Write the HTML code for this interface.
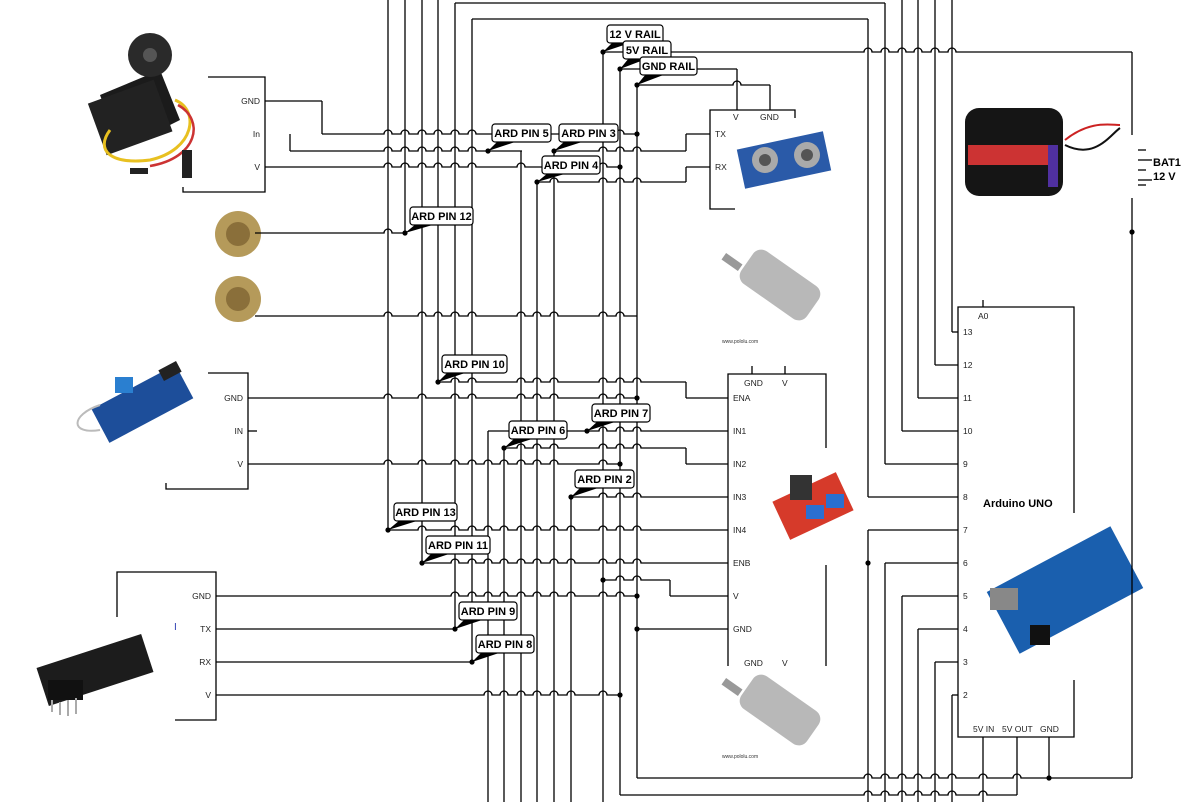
<!DOCTYPE html>
<html><head><meta charset="utf-8"><style>
html,body{margin:0;padding:0;background:#fff;}
svg{display:block;font-family:"Liberation Sans",sans-serif;}
.l{font-size:8.5px;fill:#222}
.c{font-size:11px;font-weight:bold;fill:#000}
</style></head><body>
<svg id="s" width="1187" height="802" viewBox="0 0 1187 802" xmlns="http://www.w3.org/2000/svg">
<g id="img">
 <!-- servo -->
 <path d="M100 95 L160 70 L180 120 L120 150 Z" fill="#1b1b1b"/>
 <rect x="95" y="90" width="70" height="55" fill="#222" transform="rotate(-20 130 117)"/>
 <circle cx="150" cy="55" r="22" fill="#2a2a2a"/><circle cx="150" cy="55" r="7" fill="#555"/>
 <path d="M175 100 C200 110 195 150 150 160 C110 165 95 150 110 130" stroke="#e8c020" stroke-width="3" fill="none"/>
 <path d="M178 105 C205 120 198 158 150 166" stroke="#c33" stroke-width="2.5" fill="none"/>
 <rect x="130" y="168" width="18" height="6" fill="#222"/><rect x="182" y="150" width="10" height="28" fill="#222"/>
 <!-- steel wool -->
 <circle cx="238" cy="234" r="23" fill="#b59a5a"/><circle cx="238" cy="234" r="12" fill="#8a6f3a"/>
 <circle cx="238" cy="299" r="23" fill="#b59a5a"/><circle cx="238" cy="299" r="12" fill="#8a6f3a"/>
 <!-- rain sensor -->
 <rect x="95" y="385" width="95" height="38" fill="#1d4e9a" transform="rotate(-28 142 404)"/>
 <rect x="115" y="377" width="18" height="16" fill="#2a7fd0"/>
 <path d="M100 405 C70 415 70 435 100 430" stroke="#bbb" stroke-width="2" fill="none"/>
 <rect x="160" y="365" width="20" height="12" fill="#222" transform="rotate(-28 170 371)"/>
 <!-- esp -->
 <rect x="40" y="650" width="110" height="40" fill="#1c1c1c" transform="rotate(-18 95 670)"/>
 <rect x="48" y="680" width="35" height="20" fill="#111"/>
 <g stroke="#aaa" stroke-width="2"><line x1="52" y1="700" x2="52" y2="712"/><line x1="60" y1="702" x2="60" y2="715"/><line x1="68" y1="700" x2="68" y2="716"/><line x1="76" y1="698" x2="76" y2="714"/></g>
 <!-- ultrasonic -->
 <rect x="740" y="140" width="88" height="40" fill="#2a5aa8" transform="rotate(-12 784 160)"/>
 <circle cx="765" cy="160" r="13" fill="#aaa"/><circle cx="765" cy="160" r="6" fill="#555"/>
 <circle cx="807" cy="155" r="13" fill="#aaa"/><circle cx="807" cy="155" r="6" fill="#555"/>
 <!-- motor1 -->
 <rect x="740" y="265" width="80" height="40" rx="10" fill="#b8b8b8" transform="rotate(35 780 285)"/>
 <rect x="722" y="258" width="20" height="8" fill="#999" transform="rotate(35 732 262)"/>
 <!-- motor2 -->
 <rect x="740" y="690" width="80" height="40" rx="10" fill="#b8b8b8" transform="rotate(35 780 710)"/>
 <rect x="722" y="683" width="20" height="8" fill="#999" transform="rotate(35 732 687)"/>
 <!-- l298 -->
 <rect x="778" y="485" width="70" height="42" fill="#d63a2a" transform="rotate(-25 813 506)"/>
 <rect x="790" y="475" width="22" height="25" fill="#333"/>
 <rect x="806" y="505" width="18" height="14" fill="#2a6fd0"/><rect x="826" y="494" width="18" height="14" fill="#2a6fd0"/>
 <!-- battery -->
 <rect x="965" y="108" width="98" height="88" rx="14" fill="#151515"/>
 <rect x="968" y="145" width="85" height="20" fill="#c33"/>
 <rect x="1048" y="145" width="10" height="42" fill="#5030a0"/>
 <path d="M1065 140 C1090 120 1110 125 1120 125" stroke="#c22" stroke-width="2" fill="none"/>
 <path d="M1065 145 C1095 160 1110 135 1120 128" stroke="#111" stroke-width="2" fill="none"/>
 <!-- arduino -->
 <rect x="995" y="555" width="140" height="70" fill="#1a5fae" transform="rotate(-28 1065 590)"/>
 <rect x="990" y="588" width="28" height="22" fill="#888"/>
 <rect x="1030" y="625" width="20" height="20" fill="#111"/>
</g>
<g id="w" stroke="#000" stroke-width="1.3" fill="none"></g>
<g id="d" fill="#000"></g>
<g id="t">
 <!-- servo box -->
 <path d="M208 77H265V192H183V187" stroke="#000" stroke-width="1.3" fill="none"/>
 <text class="l" x="260" y="104" text-anchor="end">GND</text>
 <text class="l" x="260" y="137" text-anchor="end">In</text>
 <text class="l" x="260" y="170" text-anchor="end">V</text>
 <!-- rain box -->
 <path d="M208 373H248V489H166V483" stroke="#000" stroke-width="1.3" fill="none"/>
 <line x1="248" y1="431" x2="257" y2="431" stroke="#000" stroke-width="1.3"/>
 <text class="l" x="243" y="401" text-anchor="end">GND</text>
 <text class="l" x="243" y="434" text-anchor="end">IN</text>
 <text class="l" x="243" y="467" text-anchor="end">V</text>
 <!-- esp box -->
 <path d="M117 617V572H216V720H175" stroke="#000" stroke-width="1.3" fill="none"/>
 <text class="l" x="211" y="599" text-anchor="end">GND</text>
 <text class="l" x="211" y="632" text-anchor="end">TX</text>
 <text class="l" x="211" y="665" text-anchor="end">RX</text>
 <text class="l" x="211" y="698" text-anchor="end">V</text>
 <text x="174" y="630" font-size="10" fill="#2a3ab0">I</text>
 <!-- ultrasonic box -->
 <path d="M795 118V110H710V209H735" stroke="#000" stroke-width="1.3" fill="none"/>
 <text class="l" x="715" y="137">TX</text><text class="l" x="715" y="170">RX</text>
 <text class="l" x="733" y="120">V</text><text class="l" x="760" y="120">GND</text>
 <!-- l298 box -->
 <path d="M826 448V374H728V666M826 565V666" stroke="#000" stroke-width="1.3" fill="none"/>
 <line x1="752" y1="366" x2="752" y2="374" stroke="#000" stroke-width="1.3"/>
 <line x1="785" y1="366" x2="785" y2="374" stroke="#000" stroke-width="1.3"/>
 <text class="l" x="744" y="386">GND</text><text class="l" x="782" y="386">V</text>
 <text class="l" x="733" y="401">ENA</text><text class="l" x="733" y="434">IN1</text>
 <text class="l" x="733" y="467">IN2</text><text class="l" x="733" y="500">IN3</text>
 <text class="l" x="733" y="533">IN4</text><text class="l" x="733" y="566">ENB</text>
 <text class="l" x="733" y="599">V</text><text class="l" x="733" y="632">GND</text>
 <text class="l" x="744" y="666">GND</text><text class="l" x="782" y="666">V</text>
 <text x="722" y="343" font-size="5" fill="#333">www.pololu.com</text>
 <text x="722" y="758" font-size="5" fill="#333">www.pololu.com</text>
 <!-- arduino box -->
 <path d="M1074 513V307H958V737H1074V680" stroke="#000" stroke-width="1.3" fill="none"/>
 <line x1="983" y1="300" x2="983" y2="307" stroke="#000" stroke-width="1.3"/>
 <text class="l" x="978" y="319">A0</text>
 <text class="l" x="963" y="335">13</text><text class="l" x="963" y="368">12</text>
 <text class="l" x="963" y="401">11</text><text class="l" x="963" y="434">10</text>
 <text class="l" x="963" y="467">9</text><text class="l" x="963" y="500">8</text>
 <text class="l" x="963" y="533">7</text><text class="l" x="963" y="566">6</text>
 <text class="l" x="963" y="599">5</text><text class="l" x="963" y="632">4</text>
 <text class="l" x="963" y="665">3</text><text class="l" x="963" y="698">2</text>
 <text class="l" x="973" y="732">5V IN</text><text class="l" x="1002" y="732">5V OUT</text>
 <text class="l" x="1040" y="732">GND</text>
 <text class="c" x="983" y="507">Arduino UNO</text>
 <!-- battery symbol -->
 <g stroke="#000" stroke-width="1.3"><line x1="1138" y1="150" x2="1146" y2="150"/><line x1="1138" y1="160" x2="1152" y2="160"/><line x1="1138" y1="170" x2="1146" y2="170"/><line x1="1138" y1="180" x2="1152" y2="180"/><line x1="1138" y1="185" x2="1146" y2="185"/></g>
 <text class="c" x="1153" y="166">BAT1</text><text class="c" x="1153" y="180">12 V</text>
</g>
<g id="lab"></g>
</svg>
<script>
var NS="http://www.w3.org/2000/svg";
function el(p,n,a,txt){var e=document.createElementNS(NS,n);for(var k in a)e.setAttribute(k,a[k]);if(txt)e.textContent=txt;p.appendChild(e);return e;}
var V=[[388,0,530],[405,0,233],[422,0,563],[438,0,382],[455,3,629],[472,19,662],
[488,431,802],[504,448,802],[521,151,802],[537,182,802],[554,151,802],[571,497,802],
[603,52,802],[620,69,795],[637,85,778],
[686,134,151],[686,167,182],[686,382,398],[686,448,464],[670,580,596],
[737,69,110],[770,85,110],
[868,19,497],[885,3,464],[902,0,431],[918,0,398],[935,0,365],[952,0,332],
[868,530,802],[885,563,802],[902,596,802],[918,629,802],[935,662,802],[952,695,802],
[983,737,802],[1017,737,795],[1049,737,778],[1132,52,135],[1132,198,778],
[322,101,134],[290,134,151]];
var H=[[3,455,885],[19,472,868],[52,603,1132],[69,620,737],[85,637,770],
[101,265,322],[134,322,637],[134,686,710],[151,290,522],[151,554,686],[167,265,620],[167,686,710],[182,537,686],
[233,255,405],[316,255,637],
[382,438,686],[398,248,637],[398,686,728],[431,488,728],[448,504,686],[464,248,620],[464,686,728],[497,571,728],[530,388,728],[563,422,728],[580,603,670],[596,670,728],[596,216,637],[629,216,455],[629,637,728],[662,216,472],[695,216,620],
[778,637,1132],[795,620,1017],
[332,952,958],[365,935,958],[398,918,958],[431,902,958],[464,885,958],[497,868,958],[530,868,958],[563,885,958],[596,902,958],[629,918,958],[662,935,958],[695,952,958]];
var w=document.getElementById('w');
V.forEach(function(v){el(w,'line',{x1:v[0],y1:v[1],x2:v[0],y2:v[2]});});
var r=4;
H.forEach(function(h){
 var y=h[0],a=h[1],b=h[2],xs=[];
 V.forEach(function(v){if(v[0]>a+r&&v[0]<b-r&&y>v[1]+0.5&&y<v[2]-0.5)xs.push(v[0]);});
 xs.sort(function(p,q){return p-q;});
 var d='M'+a+' '+y;
 xs.forEach(function(x){d+=' H'+(x-r)+' A'+r+' '+r+' 0 0 1 '+(x+r)+' '+y;});
 d+=' H'+b;
 el(w,'path',{d:d});
});
var D=[[603,52],[620,69],[637,85],[488,151],[554,151],[537,182],[405,233],[637,134],[620,167],[438,382],[637,398],[587,431],[504,448],[620,464],[571,497],[388,530],[422,563],[603,580],[637,596],[637,629],[455,629],[472,662],[620,695],[1049,778],[1132,232],[868,563]];
var dg=document.getElementById('d');
D.forEach(function(p){el(dg,'circle',{cx:p[0],cy:p[1],r:2.6});});
var L=[["12 V RAIL",607,25,56,603,52],["5V RAIL",623,41,48,620,69],["GND RAIL",640,57,57,637,85],
["ARD PIN 5",492,124,59,488,151],["ARD PIN 3",559,124,59,554,151],["ARD PIN 4",542,156,58,537,182],
["ARD PIN 12",410,207,63,405,233],["ARD PIN 10",442,355,65,438,382],["ARD PIN 7",592,404,58,587,431],
["ARD PIN 6",509,421,58,504,448],["ARD PIN 2",575,470,59,571,497],["ARD PIN 13",394,503,63,388,530],
["ARD PIN 11",426,536,64,422,563],["ARD PIN 9",459,602,58,455,629],["ARD PIN 8",476,635,58,472,662]];
var lg=document.getElementById('lab');
L.forEach(function(l){
 var x=l[1],y=l[2],wd=l[3],h=18;
 el(lg,'polygon',{points:l[4]+','+l[5]+' '+(x+6)+','+(y+h-1)+' '+(x+26)+','+(y+h-1),fill:'#000'});
 el(lg,'rect',{x:x,y:y,width:wd,height:h,rx:3,fill:'#fff',stroke:'#000','stroke-width':1.2});
 el(lg,'text',{x:x+wd/2,y:y+13,'text-anchor':'middle','class':'c'},l[0]);
});
</script>
</body></html>
